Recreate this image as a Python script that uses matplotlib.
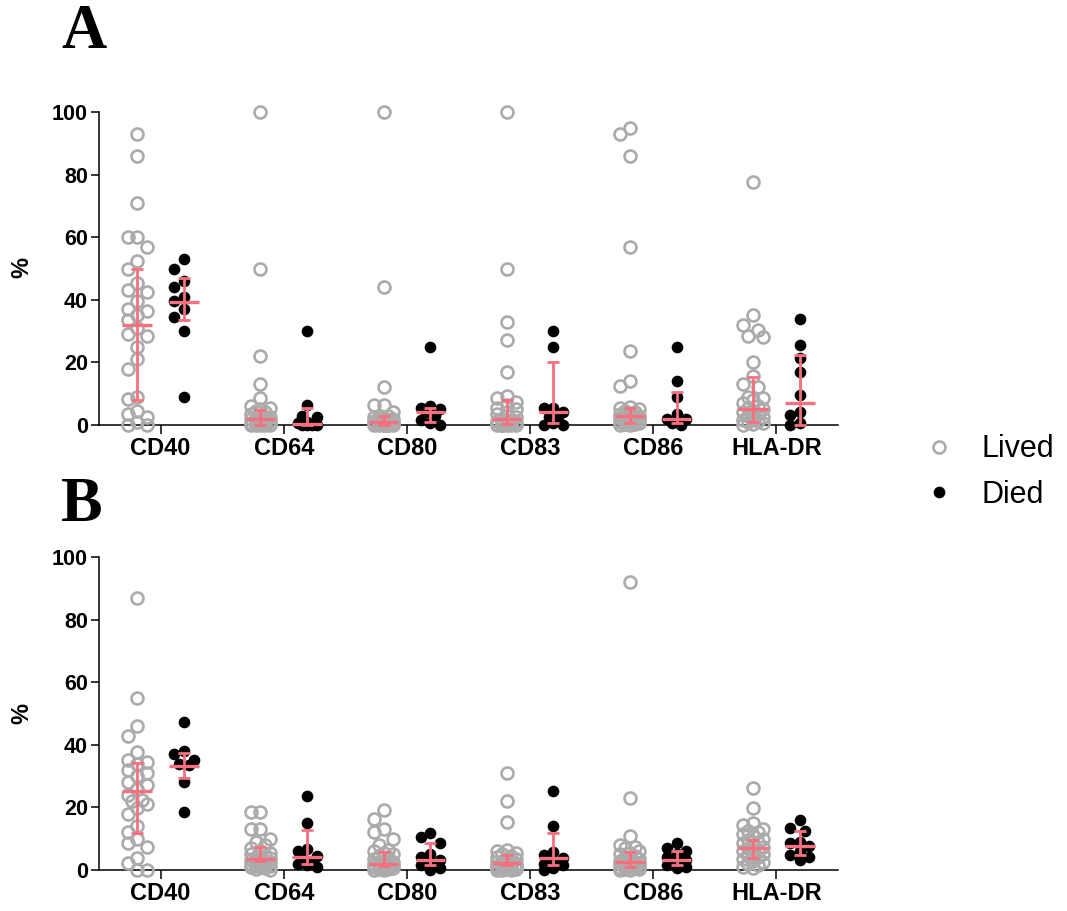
import numpy as np
import matplotlib
matplotlib.use("Agg")
import matplotlib.pyplot as plt
from matplotlib.lines import Line2D

plt.rcParams["font.family"] = ["Liberation Sans", "DejaVu Sans"]

markers = ["CD40", "CD64", "CD80", "CD83", "CD86", "HLA-DR"]
group_names = ["Lived", "Died"]

# ---- Panel A: individual values (%) ----
a_cd40_lived = [93, 86, 71, 60, 60, 57, 52.5, 50, 45.5, 43, 42.5, 39.5, 37, 36.5, 35, 33.5, 31,
                29, 28.5, 25, 21, 18, 9, 8.3, 4.6, 3.5, 2.5, 1, 0, 0]
a_cd40_died = [53, 50, 46, 44, 41, 39.5, 37, 34.5, 30, 9]
a_cd64_lived = [100, 50, 22, 13, 8.5, 6, 5.5, 5, 4.6, 4, 3.5, 3, 2.5, 2.2, 2, 1.8, 1.5, 1.2, 1,
                0.8, 0.6, 0.5, 0.3, 0.2, 0.1, 0, 0, 0, 0]
a_cd64_died = [30, 6.5, 3, 2.5, 1, 0.5, 0, 0, 0, 0]
a_cd80_lived = [100, 44, 12, 6.5, 6.5, 4, 3, 2.8, 2.5, 2.2, 2, 1.8, 1.5, 1.2, 0.9, 0.8, 0.7,
                0.6, 0.5, 0.4, 0.3, 0.2, 0.1, 0, 0, 0, 0, 0, 0]
a_cd80_died = [25, 6, 5.5, 5, 4, 3, 1.5, 0.5, 0]
a_cd83_lived = [100, 50, 33, 27, 17, 9.2, 8.5, 7.5, 6.5, 5.5, 5, 4, 3.5, 2.5, 1.8, 1.5, 1.2, 1,
                0.8, 0.6, 0.5, 0.3, 0.2, 0.1, 0.1, 0.1, 0, 0, 0]
a_cd83_died = [30, 25, 5.4, 5.4, 4, 2.5, 2.5, 0.5, 0, 0]
a_cd86_lived = [93, 95, 86, 57, 23.6, 14.2, 12.4, 5.7, 5.5, 5, 4.5, 4, 3.5, 3.2, 3, 2.8, 2.5,
                2.2, 2, 1.8, 1.5, 1.2, 1, 0.8, 0.5, 0.3, 0.2, 0, 0]
a_cd86_died = [25, 14.2, 9, 3.5, 2, 1.8, 1.5, 0.5, 0]
a_hladr_lived = [77.5, 35, 32, 30.5, 28.5, 28, 20, 15.7, 13, 12, 9, 8.5, 8, 7, 6, 5.5, 5, 4.5,
                 4, 3.5, 3, 2.5, 2, 1.5, 1.2, 1, 0.5, 0.2, 0]
a_hladr_died = [33.8, 25.6, 21.3, 17, 9.6, 4.3, 3.2, 0.5, 0]

# ---- Panel A: median with interquartile range ----
a_lived_median = [31.8, 1.8, 0.9, 1.8, 2.9, 5.0]
a_lived_q1 = [8.1, 0.0, 0.0, 0.2, 0.5, 1.1]
a_lived_q3 = [49.9, 4.8, 2.9, 8.0, 5.3, 15.2]
a_died_median = [39.3, 0.2, 4.1, 4.0, 1.8, 6.9]
a_died_q1 = [33.4, 0.0, 1.1, 0.5, 0.7, 0.0]
a_died_q3 = [47.0, 5.3, 5.3, 20.2, 10.4, 22.4]

# ---- Panel B: individual values (%) ----
b_cd40_lived = [87, 55, 46, 42.8, 37.8, 35, 34.5, 34, 32, 31, 30, 28, 27, 26, 24, 22.5, 22, 21,
                19.7, 18, 14, 12.2, 10, 8.7, 7.2, 3.7, 2.1, 0, 0]
b_cd40_died = [47.4, 38, 37, 35, 34, 33.5, 28.2, 18.6]
b_cd64_lived = [18.6, 18.6, 13, 13, 10, 9, 8, 7, 6, 5.5, 5, 4.5, 4, 3.8, 3.5, 3.2, 3, 2.8, 2.5,
                2.2, 2, 1.8, 1.5, 1.2, 1, 0.8, 0.5, 0.3, 0]
b_cd64_died = [23.6, 15.1, 6.6, 6.2, 4.5, 4.2, 3, 2, 1.5, 1]
b_cd80_lived = [19.2, 16.2, 13, 12.2, 9.8, 8, 6.5, 6, 5.5, 5, 4.5, 4, 3.5, 3, 2.5, 2.2, 2, 1.9,
                1.8, 1.5, 1.3, 1.2, 1, 0.8, 0.5, 0.4, 0.2, 0.1, 0]
b_cd80_died = [11.9, 10.4, 8.7, 5, 4, 3.2, 2.5, 1.6, 0.5, 0]
b_cd83_lived = [31, 22, 15.2, 6.5, 6, 5.5, 5, 4.5, 4, 3.8, 3.5, 3, 2.8, 2.5, 2.3, 2, 1.8, 1.6,
                1.4, 1.2, 1, 0.8, 0.6, 0.5, 0.3, 0.2, 0.1, 0, 0]
b_cd83_died = [25.3, 14.2, 5.9, 4.8, 3.7, 3, 2, 1.5, 0.5, 0]
b_cd86_lived = [92, 23, 11, 8, 7.5, 7, 6, 5.5, 5, 4.5, 4, 3.5, 3.2, 3, 2.7, 2.5, 2.2, 2, 1.8,
                1.5, 1.2, 1, 0.8, 0.6, 0.5, 0.3, 0.2, 0.1, 0]
b_cd86_died = [8.7, 7, 6, 5, 4, 3.2, 2.5, 1.5, 1, 0.5]
b_hladr_lived = [26.1, 19.7, 15, 14.5, 13, 12.5, 12, 11.5, 11, 10, 9.5, 9, 8.5, 8, 7.5, 7, 6.5,
                 6, 5.5, 5, 4.5, 4, 3.5, 3, 2.5, 2, 1.5, 1, 0.5]
b_hladr_died = [16, 13.3, 12.6, 9, 8.5, 7.7, 6, 4.8, 4, 3.2]

# ---- Panel B: median with interquartile range ----
b_lived_median = [25.3, 3.5, 1.9, 2.3, 2.7, 6.9]
b_lived_q1 = [11.9, 2.8, 1.3, 1.6, 1.0, 3.7]
b_lived_q3 = [34.1, 7.5, 5.9, 4.8, 5.9, 9.6]
b_died_median = [33.3, 4.3, 3.2, 3.7, 3.2, 7.7]
b_died_q1 = [29.3, 1.9, 1.6, 1.6, 1.6, 4.8]
b_died_q3 = [37.5, 12.8, 8.7, 11.9, 6.1, 12.6]

panel_a_lived = [a_cd40_lived, a_cd64_lived, a_cd80_lived, a_cd83_lived, a_cd86_lived, a_hladr_lived]
panel_a_died = [a_cd40_died, a_cd64_died, a_cd80_died, a_cd83_died, a_cd86_died, a_hladr_died]
panel_b_lived = [b_cd40_lived, b_cd64_lived, b_cd80_lived, b_cd83_lived, b_cd86_lived, b_hladr_lived]
panel_b_died = [b_cd40_died, b_cd64_died, b_cd80_died, b_cd83_died, b_cd86_died, b_hladr_died]

LIVED_COLOR = "#ababab"
DIED_COLOR = "black"
BAR_COLOR = "#f7707f"

W, H, DPI = 1067, 911, 100
fig = plt.figure(figsize=(W / DPI, H / DPI), dpi=DPI)

AX_LEFT, AX_RIGHT = 99, 838
GROUP_SHIFT = 0.19


def swarm(values, px_per_x, px_per_y, step=4.8, nsteps=2, min_dist=11.5):
    """Horizontal offsets (in x data units) spreading points of one column."""
    vals = np.asarray(values, dtype=float)
    order = np.argsort(vals, kind="stable")[::-1]
    cands = [0.0]
    for k in range(1, nsteps + 1):
        cands += [-k * step, k * step]
    placed = []
    offs = np.zeros(len(vals))
    for i in order:
        ypx = vals[i] * px_per_y
        best, best_d = 0.0, -1.0
        for c in cands:
            if placed:
                d = min(np.hypot(c - px, ypx - py) for px, py in placed)
            else:
                d = np.inf
            if d >= min_dist:
                best = c
                break
            if d > best_d:
                best, best_d = c, d
        placed.append((best, ypx))
        offs[i] = best
    return offs / px_per_x


def draw_panel(top_px, lived, died, lmed, lq1, lq3, dmed, dq1, dq3):
    bottom_px = top_px + 313
    ax = fig.add_axes([AX_LEFT / W, 1 - bottom_px / H, (AX_RIGHT - AX_LEFT) / W,
                       (bottom_px - top_px) / H])
    ax.set_xlim(-0.5, len(markers) - 0.5)
    ax.set_ylim(0, 100)
    px_per_x = (AX_RIGHT - AX_LEFT) / len(markers)
    px_per_y = (bottom_px - top_px) / 100.0

    for i in range(len(markers)):
        xl = i - GROUP_SHIFT
        xd = i + GROUP_SHIFT
        ol = swarm(lived[i], px_per_x, px_per_y)
        od = swarm(died[i], px_per_x, px_per_y)
        ax.plot(xl + ol, lived[i], "o", ms=8.6, mfc="none", mec=LIVED_COLOR, mew=1.9,
                ls="none", clip_on=False, zorder=3)
        ax.plot(xd + od, died[i], "o", ms=8.4, mfc=DIED_COLOR, mec=DIED_COLOR, mew=0,
                ls="none", clip_on=False, zorder=3)

    xs_l = np.arange(len(markers)) - GROUP_SHIFT
    xs_d = np.arange(len(markers)) + GROUP_SHIFT
    for xs, med, q1, q3 in ((xs_l, lmed, lq1, lq3), (xs_d, dmed, dq1, dq3)):
        med = np.asarray(med)
        yerr = [med - np.asarray(q1), np.asarray(q3) - med]
        ax.errorbar(xs, med, yerr=yerr, fmt="none", ecolor=BAR_COLOR, elinewidth=2.0,
                    capsize=4.4, capthick=2.0, zorder=4, clip_on=False)
        ax.hlines(med, xs - 0.12, xs + 0.12, colors=BAR_COLOR, linewidth=2.4, zorder=4,
                  clip_on=False)

    for side in ("top", "right"):
        ax.spines[side].set_visible(False)
    for side in ("left", "bottom"):
        ax.spines[side].set_linewidth(1.1)
    ax.set_yticks(np.arange(0, 101, 20))
    ax.set_xticks(np.arange(len(markers)))
    ax.set_xticklabels(markers)
    ax.tick_params(axis="y", length=6, width=1.1, pad=2, labelsize=15.5)
    ax.tick_params(axis="x", length=6.5, width=1.1, pad=2, labelsize=17)
    for lab in ax.get_xticklabels() + ax.get_yticklabels():
        lab.set_fontweight("bold")
    fig.text(22 / W, 1 - (top_px + 156) / H, "%", rotation=90, ha="center", va="center",
             fontsize=17, fontweight="bold")
    return ax


draw_panel(112, panel_a_lived, panel_a_died, a_lived_median, a_lived_q1, a_lived_q3,
           a_died_median, a_died_q1, a_died_q3)
draw_panel(557, panel_b_lived, panel_b_died, b_lived_median, b_lived_q1, b_lived_q3,
           b_died_median, b_died_q1, b_died_q3)

fig.text(61 / W, 1 - 48 / H, "A", family=["Liberation Serif", "DejaVu Serif"],
         fontweight="bold", fontsize=45, ha="left", va="baseline")
fig.text(61 / W, 1 - 521 / H, "B", family=["Liberation Serif", "DejaVu Serif"],
         fontweight="bold", fontsize=45, ha="left", va="baseline")

handles = [
    Line2D([], [], marker="o", ls="none", ms=8.6, mfc="none", mec=LIVED_COLOR, mew=1.9),
    Line2D([], [], marker="o", ls="none", ms=8.4, mfc=DIED_COLOR, mec=DIED_COLOR, mew=0),
]
fig.legend(handles, group_names, loc="center left", bbox_to_anchor=(911 / W, 1 - 472 / H),
           frameon=False, fontsize=22, handlelength=1.0, handletextpad=0.9,
           labelspacing=0.5, borderaxespad=0)

fig.savefig("out.png", dpi=DPI)
